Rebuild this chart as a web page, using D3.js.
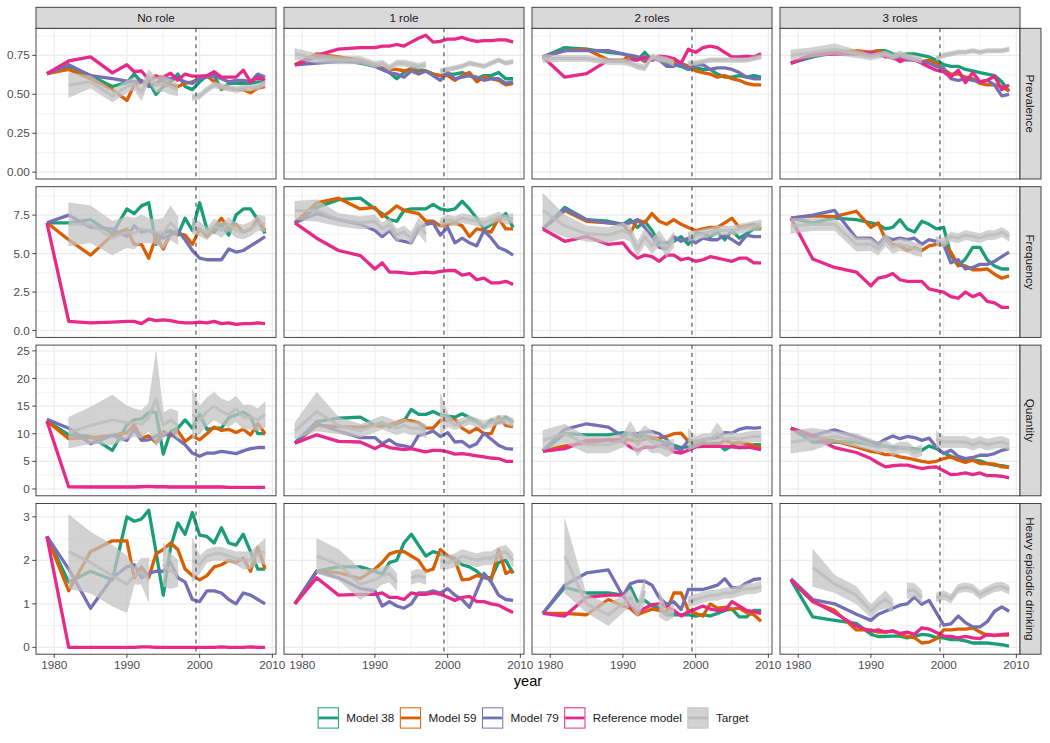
<!DOCTYPE html>
<html><head><meta charset="utf-8">
<script src="https://cdn.jsdelivr.net/npm/d3@7"></script>
<style>
body{margin:0;background:#fff}
text{font-family:"Liberation Sans",Arial,Helvetica,sans-serif}
</style>
</head><body>
<svg id="chart" width="1050" height="743"></svg>
<script>
// ---------------- data ----------------
const years = [1979,1982,1985,1988,1990,1991,1992,1993,1994,1995,1996,1997,1998,1999,2000,2001,2002,2003,2004,2005,2006,2007,2008,2009];
const roles = ["No role","1 role","2 roles","3 roles"];
const measures = ["Prevalence","Frequency","Quantity","Heavy episodic drinking"];
const seriesNames = ["Model 38","Model 59","Model 79","Reference model"];
const seriesColors = ["#1b9e77","#d95f02","#7570b3","#e7298a"];
const targetName = "Target";
const xTicks = [1980,1990,2000,2010];
const yTicksPrev = [0,0.25,0.5,0.75];
const yTicksFreq = [0,2.5,5,7.5];
const yTicksQty = [0,5,10,15,20,25];
const yTicksHed = [0,1,2,3];
const yTickFormats = [".2f",".1f","d","d"];
const changeYear = 1999.5;

// Prevalence: one array per role (No role, 1 role, 2 roles, 3 roles)
const prevM38 = [
 [.633,.68,.62,.55,.575,.63,.58,.58,.50,.55,.58,.63,.55,.53,.58,.62,.62,.53,.57,.57,.57,.57,.58,.58],
 [.69,.74,.72,.70,.68,.66,.64,.60,.64,.67,.66,.65,.63,.62,.63,.63,.64,.62,.60,.62,.62,.64,.60,.60],
 [.74,.80,.79,.77,.76,.74,.72,.77,.72,.73,.70,.69,.68,.66,.67,.66,.66,.63,.61,.61,.62,.61,.62,.61],
 [.70,.74,.77,.77,.77,.78,.78,.76,.75,.76,.76,.75,.74,.72,.69,.68,.68,.66,.65,.64,.63,.62,.58,.52]];
const prevM59 = [
 [.633,.66,.60,.53,.46,.56,.58,.58,.62,.58,.56,.55,.57,.58,.60,.62,.58,.54,.54,.53,.53,.51,.54,.55],
 [.69,.76,.74,.72,.69,.67,.66,.66,.65,.66,.64,.65,.63,.62,.62,.59,.62,.64,.58,.61,.60,.59,.56,.57],
 [.74,.78,.79,.72,.72,.75,.74,.71,.74,.73,.72,.71,.70,.68,.65,.64,.63,.61,.62,.60,.59,.57,.56,.56],
 [.70,.76,.77,.78,.77,.78,.76,.74,.75,.74,.72,.71,.72,.70,.66,.63,.63,.61,.60,.57,.56,.56,.55,.52]];
const prevM79 = [
 [.633,.69,.62,.60,.585,.58,.59,.55,.57,.60,.60,.60,.58,.57,.60,.61,.62,.60,.58,.59,.59,.58,.63,.61],
 [.69,.70,.71,.71,.68,.66,.64,.63,.61,.65,.63,.65,.62,.59,.64,.60,.61,.62,.61,.59,.60,.60,.57,.58],
 [.74,.78,.78,.78,.76,.75,.74,.72,.73,.72,.68,.68,.70,.66,.69,.69,.66,.67,.67,.66,.64,.61,.60,.60],
 [.70,.75,.76,.76,.75,.76,.75,.73,.73,.72,.72,.71,.70,.68,.67,.60,.59,.60,.59,.58,.59,.56,.49,.50]];
const prevRef = [
 [.633,.714,.74,.638,.69,.645,.65,.595,.61,.61,.635,.59,.63,.617,.617,.62,.645,.61,.61,.61,.655,.58,.61,.59],
 [.686,.75,.79,.80,.80,.81,.81,.82,.81,.835,.86,.88,.835,.84,.855,.855,.865,.85,.84,.845,.845,.85,.85,.835],
 [.74,.61,.633,.72,.71,.72,.72,.74,.72,.745,.74,.73,.70,.79,.77,.80,.81,.80,.77,.74,.74,.745,.74,.76],
 [.70,.756,.76,.76,.77,.76,.74,.74,.71,.73,.72,.70,.676,.655,.644,.61,.655,.575,.64,.58,.59,.616,.53,.56]];
const prevTgt = [
 [null,.56,.58,.49,.55,.57,.51,.62,.56,.57,.55,.53,null,.48,.49,.53,.56,.55,.54,.53,.54,.54,.55,.57],
 [.76,.73,.72,.72,.69,.70,.67,.70,.70,.69,.68,.69,null,.65,.66,.67,.68,.70,.69,.68,.70,.72,.70,.71],
 [.73,.73,.73,.71,.71,.70,.68,.67,.74,.73,.72,.70,null,.70,.70,.71,.72,.72,.72,.72,.72,.72,.73,.74],
 [.75,.77,.79,.76,.74,.75,.76,.74,.76,.74,.73,.72,null,.73,.75,.76,.77,.77,.78,.77,.78,.78,.78,.79]];
const prevTgtHalf = [
 [null,.08,.04,.04,.04,.04,.05,.04,.05,.05,.05,.04,null,.02,.02,.02,.02,.02,.02,.02,.02,.02,.02,.02],
 [.035,.03,.025,.025,.02,.02,.02,.02,.02,.02,.02,.02,null,.015,.015,.015,.015,.015,.015,.015,.015,.015,.015,.015],
 [.025,.02,.02,.02,.02,.02,.02,.02,.02,.02,.02,.02,null,.015,.015,.015,.015,.015,.015,.015,.015,.015,.015,.015],
 [.035,.03,.035,.025,.02,.02,.02,.02,.02,.02,.02,.02,null,.015,.015,.015,.015,.015,.015,.015,.015,.015,.015,.015]];

// Frequency
const freqM38 = [
 [7.0,7.0,7.2,6.3,7.9,7.6,8.1,8.3,5.6,6.3,6.5,6.2,7.3,6.5,8.3,6.6,6.4,6.9,6.2,7.5,7.9,7.9,7.2,6.3],
 [7.0,8.0,8.5,8.6,7.9,7.6,7.2,7.1,7.8,7.9,7.9,7.9,8.2,7.9,7.8,7.9,8.4,7.9,7.3,6.6,6.9,7.2,7.6,6.7],
 [6.6,8.0,7.2,7.1,6.9,7.2,6.7,7.1,6.5,5.7,5.7,5.8,6.1,5.6,6.3,6.3,6.1,6.4,5.9,6.5,6.0,6.3,6.6,6.6],
 [7.3,7.0,7.3,7.2,7.0,6.9,6.6,6.7,7.2,6.6,6.4,7.1,6.9,6.6,6.7,4.9,4.2,4.65,5.4,5.4,4.6,4.2,4.0,4.0]];
const freqM59 = [
 [7.0,5.9,4.9,6.2,6.6,5.6,5.6,4.7,6.1,5.3,6.3,6.3,6.2,5.6,6.6,6.1,6.7,7.3,6.6,6.9,6.4,6.6,7.2,6.5],
 [7.0,8.3,8.6,7.9,8.0,7.4,7.7,8.1,7.8,7.7,7.6,7.1,7.1,6.8,6.9,7.0,6.8,6.1,6.6,6.5,6.4,7.3,6.6,6.6],
 [6.6,7.8,7.1,7.0,6.9,6.3,7.2,7.0,7.6,7.1,6.9,7.2,6.9,6.7,6.5,6.6,6.7,6.7,7.0,7.3,6.7,6.8,6.9,6.6],
 [7.3,7.45,7.4,7.75,6.7,7.0,5.95,5.6,5.5,5.2,5.4,5.2,5.5,5.6,5.6,5.1,4.25,4.2,3.95,3.95,4.0,3.66,3.4,3.55]];
const freqM79 = [
 [7.0,7.5,6.7,6.6,6.1,6.8,6.4,6.5,6.3,6.0,6.2,6.5,5.9,5.2,4.7,4.6,4.6,4.6,5.3,5.1,5.2,5.5,5.8,6.1],
 [7.0,7.6,7.2,6.9,6.5,6.1,6.5,5.9,5.8,5.7,6.6,6.9,7.0,6.2,6.7,5.7,6.0,5.7,5.5,6.5,6.0,5.4,5.2,4.9],
 [6.6,7.9,7.2,7.0,6.9,7.0,7.2,6.7,6.1,5.4,5.3,6.1,5.8,6.0,5.7,6.0,5.9,5.9,6.2,5.9,5.6,6.2,6.1,6.1],
 [7.3,7.5,7.8,6.0,6.0,5.6,6.1,5.9,6.0,5.9,6.0,5.6,5.9,5.8,5.6,4.4,4.6,4.0,4.1,4.3,4.3,4.5,4.8,5.1]];
const freqRef = [
 [7.0,0.6,0.5,0.55,0.6,0.6,0.45,0.75,0.65,0.7,0.65,0.55,0.5,0.5,0.55,0.5,0.6,0.45,0.5,0.4,0.45,0.45,0.5,0.45],
 [7.0,6.0,5.2,4.87,4.0,4.4,3.8,3.8,3.75,3.7,3.75,3.8,3.75,3.85,3.9,3.9,3.6,3.7,3.3,3.4,3.1,3.1,3.2,3.0],
 [6.6,5.8,6.1,5.6,5.7,5.1,4.7,4.9,4.8,4.5,4.9,4.9,4.6,4.7,4.5,4.6,4.8,4.7,4.6,4.5,4.7,4.7,4.4,4.4],
 [7.3,4.65,4.1,3.8,2.9,3.4,3.5,3.7,3.3,3.2,3.2,3.2,2.7,2.6,2.5,2.2,2.1,2.5,2.2,2.4,1.9,1.8,1.5,1.5]];
const freqTgt = [
 [null,6.9,6.9,6.0,6.4,6.3,6.6,6.5,6.4,6.3,7.0,6.5,null,6.8,6.6,6.3,6.8,6.5,6.9,6.5,6.4,6.6,7.0,6.9],
 [7.8,7.8,7.2,7.0,7.1,6.6,6.9,6.2,6.4,6.0,6.8,6.3,null,7.0,7.2,7.1,7.3,7.2,7.1,7.0,7.2,7.4,7.2,7.3],
 [7.8,6.8,6.3,6.2,6.5,6.3,5.3,6.1,5.5,6.0,5.3,5.9,null,6.1,6.2,6.3,6.4,6.5,6.5,6.5,6.6,6.7,6.8,6.9],
 [6.8,6.9,6.9,5.6,5.6,5.3,5.9,5.4,5.6,5.5,5.3,5.2,null,5.8,5.7,6.1,6.0,6.2,6.1,6.0,6.2,6.2,6.4,6.1]];
const freqTgtHalf = [
 [null,1.4,1.2,1.1,1.0,1.0,0.9,0.8,0.8,1.0,1.1,0.9,null,0.5,0.45,0.4,0.45,0.45,0.45,0.45,0.45,0.45,0.5,0.5],
 [0.6,0.7,0.4,0.4,0.4,0.4,0.4,0.4,0.4,0.4,0.5,0.6,null,0.3,0.3,0.3,0.3,0.3,0.3,0.3,0.3,0.3,0.3,0.3],
 [1.1,0.7,0.5,0.5,0.5,0.5,0.5,0.5,0.5,0.5,0.5,0.5,null,0.3,0.3,0.3,0.3,0.3,0.3,0.3,0.3,0.3,0.3,0.3],
 [0.5,0.4,0.4,0.45,0.4,0.4,0.4,0.4,0.4,0.4,0.4,0.4,null,0.3,0.3,0.3,0.3,0.3,0.3,0.3,0.3,0.3,0.3,0.3]];

// Quantity
const qtyM38 = [
 [12.3,9.8,9.5,7.0,11.6,12.5,12.7,13.8,13.9,6.3,10.4,11.0,12.5,11.0,13.5,10.8,11.0,11.0,12.9,13.4,13.9,13.1,10.0,10.0],
 [8.3,12.2,12.8,13.0,11.5,12.0,11.2,11.8,12.3,14.4,13.5,13.5,14.0,13.4,13.2,13.0,13.6,12.9,12.2,11.2,12.5,12.0,13.0,12.0],
 [6.9,10.0,9.8,9.8,10.2,10.0,9.4,9.6,9.2,8.8,8.2,7.9,7.5,7.6,8.0,7.8,8.2,8.3,7.1,7.8,7.5,7.5,8.0,8.0],
 [11.0,8.5,8.5,8.5,8.0,7.8,7.8,7.5,7.5,7.3,7.3,7.0,7.8,7.3,6.5,5.9,5.4,5.2,5.2,5.1,4.6,4.3,4.2,4.0]];
const qtyM59 = [
 [12.3,9.1,9.3,9.7,10.2,11.6,9.2,9.6,8.4,10.4,9.6,10.5,8.6,9.6,8.9,10.0,11.2,10.6,10.8,10.2,10.8,9.8,11.8,10.0],
 [8.3,11.5,11.3,11.2,11.5,11.3,11.7,12.0,12.5,12.3,12.0,11.0,11.0,12.4,12.4,12.6,11.0,10.2,11.0,10.0,10.0,13.0,11.5,11.3],
 [6.9,7.8,8.3,8.9,9.0,8.9,8.6,9.0,9.3,9.2,9.5,10.0,10.1,8.6,8.3,8.5,7.9,8.0,8.8,8.3,8.4,8.2,7.8,7.5],
 [11.0,9.5,8.7,7.6,6.8,6.6,6.2,6.2,5.8,5.6,5.3,5.0,4.8,5.0,5.5,5.8,5.2,4.8,5.2,4.6,4.6,4.5,4.0,3.9]];
const qtyM79 = [
 [12.6,11.0,8.2,9.7,8.8,10.8,8.8,8.9,9.6,9.7,10.0,9.0,8.0,6.5,5.9,6.5,6.5,6.8,6.6,6.4,6.9,7.3,7.5,7.5],
 [8.3,11.8,10.5,9.3,9.3,8.2,8.9,8.0,7.8,7.5,9.7,10.0,10.5,9.5,10.2,8.5,8.6,7.6,8.2,10.1,9.0,7.9,7.3,7.2],
 [6.9,10.8,11.8,11.2,9.5,10.0,10.0,10.3,10.4,10.0,9.0,7.5,7.0,8.8,8.6,8.8,9.1,9.3,10.2,10.1,10.8,11.1,11.0,11.1],
 [11.0,9.7,10.7,9.4,8.5,8.2,9.0,9.6,9.1,9.5,9.3,8.8,9.2,7.6,6.4,7.0,5.9,5.5,5.7,6.1,6.1,6.4,7.0,7.3]];
const qtyRef = [
 [12.3,0.4,0.35,0.35,0.35,0.35,0.4,0.45,0.4,0.4,0.35,0.35,0.35,0.35,0.35,0.35,0.35,0.35,0.3,0.3,0.3,0.3,0.3,0.3],
 [8.3,9.8,8.6,8.5,7.3,8.0,7.5,7.3,7.1,7.3,7.0,6.7,7.0,7.0,6.7,6.3,6.4,6.2,6.0,5.8,5.6,5.5,5.0,5.0],
 [6.8,7.3,8.8,8.9,8.6,7.6,7.0,7.6,7.5,7.9,7.8,6.7,6.5,7.0,7.6,7.7,7.7,7.7,7.7,7.6,7.5,7.6,7.4,7.1],
 [11.0,9.5,7.5,6.6,5.5,4.7,4.0,4.2,4.3,4.3,4.0,3.7,3.9,4.0,3.3,2.6,2.7,2.9,2.6,2.9,2.4,2.4,2.3,2.0]];
const qtyTgt = [
 [null,10.2,11.5,12.5,12.0,12.0,11.7,13.0,16.3,11.5,12.5,11.5,null,13.5,12.5,14.0,15.0,14.0,13.5,14.5,13.0,13.0,12.5,13.5],
 [10.5,14.0,11.5,10.5,11.5,12.0,11.5,11.0,11.5,11.0,11.0,10.5,null,13.5,12.5,11.5,12.0,12.5,12.0,11.5,12.0,12.5,12.5,12.0],
 [8.8,10.0,8.0,8.0,8.8,10.2,8.0,9.5,8.5,7.8,7.3,7.8,null,9.0,8.5,9.0,9.0,10.0,9.0,9.2,9.0,9.3,9.5,9.5],
 [8.5,9.0,9.5,8.8,8.0,7.5,7.8,7.0,7.5,7.5,6.5,7.0,null,9.0,8.5,8.5,8.5,8.5,8.0,8.5,8.0,8.3,8.5,8.0]];
const qtyTgtHalf = [
 [null,2.8,3.3,4.5,3.0,2.5,2.5,2.5,8.5,2.3,2.0,2.5,null,4.5,2.5,2.5,2.5,2.3,2.3,2.3,2.2,2.2,2.0,2.3],
 [1.5,3.5,1.5,1.2,1.2,1.2,1.2,1.2,1.2,1.2,1.2,1.2,null,3.8,1.2,0.8,0.8,0.8,0.8,0.8,0.8,0.8,0.8,0.8],
 [1.8,1.7,1.5,1.5,1.2,2.0,2.0,2.0,2.0,1.2,1.5,1.2,null,2.0,1.0,1.0,1.0,2.0,1.0,1.0,1.0,1.0,1.0,1.0],
 [2.0,2.0,1.0,1.2,1.0,1.0,1.0,1.0,1.0,1.0,1.0,1.0,null,1.5,1.0,1.0,1.0,1.0,1.0,1.0,1.0,1.0,1.0,1.0]];

// Heavy episodic drinking
const hedM38 = [
 [2.55,1.5,1.75,1.55,3.0,2.9,2.95,3.15,2.2,1.2,2.3,2.86,2.6,3.1,2.58,2.55,2.4,2.75,2.4,2.35,2.6,2.2,1.8,1.8],
 [1.0,1.75,1.85,1.85,1.75,1.68,1.95,2.0,2.4,2.6,2.35,2.1,2.2,2.15,2.1,2.05,1.9,1.85,1.75,1.6,1.6,1.95,2.0,1.7],
 [0.78,1.38,1.25,1.25,1.2,1.4,1.05,1.08,0.95,0.9,0.75,0.75,0.75,0.75,0.72,0.75,0.72,0.78,0.85,0.88,0.7,0.7,0.85,0.85],
 [1.55,0.7,0.62,0.55,0.3,0.25,0.25,0.26,0.26,0.22,0.25,0.3,0.28,0.22,0.22,0.18,0.18,0.15,0.1,0.1,0.1,0.08,0.06,0.03]];
const hedM59 = [
 [2.55,1.3,2.2,2.45,2.45,1.6,1.85,1.6,2.15,2.25,2.4,2.25,1.8,1.65,1.55,1.65,1.85,1.9,2.0,1.95,2.05,1.75,2.3,1.8],
 [1.0,1.75,1.72,1.58,1.8,1.95,2.15,2.2,2.2,2.1,2.0,1.75,1.8,2.25,2.1,2.0,1.55,1.57,1.65,1.62,1.55,2.25,1.7,1.78],
 [0.78,0.78,0.75,1.1,0.95,0.9,0.75,0.82,0.88,0.85,0.82,1.25,1.25,0.85,0.78,0.72,1.0,0.9,0.92,0.88,0.9,0.8,0.75,0.6],
 [1.55,1.05,0.85,0.4,0.4,0.35,0.35,0.38,0.3,0.25,0.22,0.1,0.12,0.2,0.4,0.4,0.42,0.42,0.45,0.35,0.28,0.28,0.28,0.28]];
const hedM79 = [
 [2.55,1.8,0.9,1.6,1.85,1.9,1.6,1.7,1.75,1.75,1.95,1.6,1.5,1.1,1.05,1.3,1.3,1.25,1.1,1.0,1.25,1.2,1.1,1.0],
 [1.0,1.75,1.6,1.35,1.3,0.95,1.05,0.95,0.9,1.0,1.25,1.25,1.3,1.25,1.35,1.2,1.1,0.92,1.3,1.7,1.5,1.2,1.1,1.08],
 [0.78,1.43,1.71,1.78,1.18,1.46,1.52,1.52,1.43,1.14,0.99,1.05,0.87,1.33,1.33,1.33,1.38,1.43,1.58,1.37,1.37,1.48,1.56,1.58],
 [1.58,1.1,1.0,0.76,0.62,0.76,0.83,0.9,0.97,1.0,1.16,0.99,1.08,0.8,0.51,0.54,0.72,0.57,0.47,0.47,0.59,0.83,0.93,0.83]];
const hedRef = [
 [2.55,0.0,0.0,0.0,0.0,0.0,0.01,0.01,0.0,0.0,0.0,0.0,0.0,0.0,0.0,0.0,0.0,0.01,0.0,0.0,0.0,0.01,0.0,0.0],
 [1.0,1.6,1.2,1.22,1.22,1.25,1.15,1.15,1.1,1.25,1.22,1.22,1.25,1.22,1.15,1.08,1.15,1.17,1.05,1.05,1.0,0.97,0.88,0.8],
 [0.78,0.72,1.15,1.2,1.2,0.95,0.8,0.9,0.98,1.0,0.93,0.85,0.72,0.82,0.88,0.95,0.88,0.85,0.85,1.05,0.95,0.85,0.82,0.78],
 [1.55,1.06,0.8,0.49,0.37,0.4,0.35,0.38,0.32,0.35,0.3,0.45,0.42,0.34,0.26,0.25,0.22,0.25,0.22,0.2,0.3,0.27,0.3,0.31]];
const hedTgt = [
 [null,2.2,1.95,1.65,1.45,1.65,1.75,1.55,null,1.9,1.75,1.7,null,2.0,1.9,2.1,2.15,2.15,2.1,2.05,2.0,2.0,2.15,2.2],
 [null,2.1,1.9,1.45,1.55,1.65,1.7,1.5,null,1.6,1.65,1.6,null,2.0,1.95,2.0,2.1,2.05,2.0,2.05,2.05,2.15,2.2,2.0],
 [null,2.1,1.0,0.75,1.0,1.15,0.85,1.3,null,1.0,0.75,0.85,null,1.05,1.1,1.15,1.2,1.2,1.25,1.25,1.3,1.35,1.35,1.4],
 [null,1.83,1.46,1.2,0.83,1.0,1.1,0.97,null,1.3,1.32,1.15,null,1.15,1.2,1.12,1.35,1.38,1.35,1.2,1.3,1.38,1.4,1.32]];
const hedTgtHalf = [
 [null,0.85,0.7,0.7,0.65,0.2,0.3,0.5,null,0.5,0.4,0.3,null,0.5,0.2,0.15,0.15,0.15,0.15,0.15,0.2,0.2,0.2,0.3],
 [null,0.4,0.35,0.35,0.25,0.2,0.2,0.2,null,0.15,0.15,0.15,null,0.2,0.15,0.15,0.15,0.15,0.15,0.15,0.15,0.15,0.15,0.15],
 [null,0.85,0.2,0.25,0.2,0.2,0.15,0.3,null,0.3,0.15,0.15,null,0.12,0.12,0.12,0.12,0.12,0.12,0.12,0.12,0.12,0.12,0.12],
 [null,0.43,0.2,0.2,0.15,0.15,0.2,0.15,null,0.18,0.15,0.15,null,0.1,0.1,0.1,0.1,0.1,0.1,0.1,0.1,0.1,0.1,0.1]];

// assemble per measure (row)
const rowsData = [
  {models:[prevM38,prevM59,prevM79,prevRef], tgt:prevTgt, half:prevTgtHalf, ticks:yTicksPrev},
  {models:[freqM38,freqM59,freqM79,freqRef], tgt:freqTgt, half:freqTgtHalf, ticks:yTicksFreq},
  {models:[qtyM38,qtyM59,qtyM79,qtyRef], tgt:qtyTgt, half:qtyTgtHalf, ticks:yTicksQty},
  {models:[hedM38,hedM59,hedM79,hedRef], tgt:hedTgt, half:hedTgtHalf, ticks:yTicksHed}
];

// ---------------- layout ----------------
const svg = d3.select("#chart");
const panelLeft0 = 36, panelW = 240, gapX = 8;
const panelTop0 = 28.3, panelH = 150.7, gapY = 7.7;
const stripH = 21, rStripW = 21;
const gridCol = "#ebebeb", borderCol = "#333333", stripFill = "#d9d9d9";
const axisTextCol = "#4d4d4d";
const fontSize = 11.7;
const lineW = 3.3;

const px = c => panelLeft0 + c*(panelW+gapX);
const py = r => panelTop0 + r*(panelH+gapY);

const xExt = d3.extent(years);
const xPad = 0.05*(xExt[1]-xExt[0]);
const x = d3.scaleLinear().domain([xExt[0]-xPad, xExt[1]+xPad]).range([0, panelW]);
const xMinor = [];
for (let i=0;i<xTicks.length-1;i++) xMinor.push((xTicks[i]+xTicks[i+1])/2);

svg.append("rect").attr("width",1050).attr("height",743).attr("fill","#fff");

rowsData.forEach((rd, r) => {
  let vals = [0];
  rd.models.forEach(m => m.forEach(a => a.forEach(v => vals.push(v))));
  rd.tgt.forEach((a,c) => a.forEach((v,i) => { if (v!=null){ vals.push(v+rd.half[c][i]); vals.push(v-rd.half[c][i]); } }));
  const lo = d3.min(vals), hi = d3.max(vals);
  const pad = 0.05*(hi-lo);
  const y = d3.scaleLinear().domain([lo-pad, hi+pad]).range([panelH, 0]);
  const step = rd.ticks[1]-rd.ticks[0];
  const yMinor = [];
  for (let m = rd.ticks[0]-step/2; m <= hi+pad; m += step) if (m >= lo-pad) yMinor.push(m);
  const yMajor = rd.ticks.filter(t => t >= lo-pad && t <= hi+pad);
  const fmt = d3.format(yTickFormats[r]);

  roles.forEach((role, c) => {
    const g = svg.append("g").attr("transform", `translate(${px(c)},${py(r)})`);
    g.append("rect").attr("width",panelW).attr("height",panelH).attr("fill","#fff");
    const clipId = `clip-${r}-${c}`;
    g.append("clipPath").attr("id",clipId).append("rect").attr("width",panelW).attr("height",panelH);
    const grid = g.append("g");
    yMinor.forEach(v => grid.append("line").attr("x1",0).attr("x2",panelW).attr("y1",y(v)).attr("y2",y(v)).attr("stroke",gridCol).attr("stroke-width",0.6));
    xMinor.forEach(v => grid.append("line").attr("y1",0).attr("y2",panelH).attr("x1",x(v)).attr("x2",x(v)).attr("stroke",gridCol).attr("stroke-width",0.6));
    yMajor.forEach(v => grid.append("line").attr("x1",0).attr("x2",panelW).attr("y1",y(v)).attr("y2",y(v)).attr("stroke",gridCol).attr("stroke-width",1.1));
    xTicks.forEach(v => grid.append("line").attr("y1",0).attr("y2",panelH).attr("x1",x(v)).attr("x2",x(v)).attr("stroke",gridCol).attr("stroke-width",1.1));

    const plot = g.append("g").attr("clip-path",`url(#${clipId})`);
    const line = d3.line().defined(d => d.v != null).x(d => x(d.yr)).y(d => y(d.v)).curve(d3.curveLinear);
    rd.models.forEach((m, s) => {
      const pts = years.map((yr,i) => ({yr, v:m[c][i]}));
      plot.append("path").attr("d", line(pts)).attr("fill","none")
        .attr("stroke", seriesColors[s]).attr("stroke-width",lineW)
        .attr("stroke-linejoin","round").attr("stroke-linecap","butt");
    });
    const tpts = years.map((yr,i) => ({yr, v:rd.tgt[c][i], h:rd.half[c][i]}));
    const area = d3.area().defined(d => d.v != null).x(d => x(d.yr)).y0(d => y(d.v-d.h)).y1(d => y(d.v+d.h));
    plot.append("path").attr("d", area(tpts)).attr("fill","#c2c2c2").attr("fill-opacity",0.74)
      .attr("stroke","#b5b5b5").attr("stroke-width",0.5).attr("stroke-opacity",0.6);
    plot.append("path").attr("d", line(tpts)).attr("fill","none").attr("stroke","#bdbdbd")
      .attr("stroke-opacity",0.85).attr("stroke-width",lineW-0.3).attr("stroke-linejoin","round");
    plot.append("line").attr("x1",x(changeYear)).attr("x2",x(changeYear)).attr("y1",0).attr("y2",panelH)
      .attr("stroke","#444").attr("stroke-width",1.1).attr("stroke-dasharray","4,4");
    g.append("rect").attr("width",panelW).attr("height",panelH).attr("fill","none")
      .attr("stroke",borderCol).attr("stroke-width",0.9);

    if (c === 0) {
      yMajor.forEach(v => {
        g.append("line").attr("x1",-3.7).attr("x2",0).attr("y1",y(v)).attr("y2",y(v)).attr("stroke",borderCol).attr("stroke-width",0.9);
        g.append("text").attr("x",-6.3).attr("y",y(v)).attr("dy","0.35em").attr("text-anchor","end")
          .attr("font-size",fontSize).attr("fill",axisTextCol).text(fmt(v));
      });
    }
    if (r === rowsData.length-1) {
      xTicks.forEach(v => {
        g.append("line").attr("x1",x(v)).attr("x2",x(v)).attr("y1",panelH).attr("y2",panelH+3.7).attr("stroke",borderCol).attr("stroke-width",0.9);
        g.append("text").attr("x",x(v)).attr("y",panelH+15.2).attr("text-anchor","middle")
          .attr("font-size",fontSize).attr("fill",axisTextCol).text(v);
      });
    }
    if (r === 0) {
      const sg = svg.append("g").attr("transform",`translate(${px(c)},${panelTop0-stripH})`);
      sg.append("rect").attr("width",panelW).attr("height",stripH).attr("fill",stripFill).attr("stroke",borderCol).attr("stroke-width",0.9);
      sg.append("text").attr("x",panelW/2).attr("y",stripH/2).attr("dy","0.35em").attr("text-anchor","middle")
        .attr("font-size",fontSize).attr("fill","#1a1a1a").text(role);
    }
  });
  const rx = px(roles.length-1)+panelW;
  const rg = svg.append("g").attr("transform",`translate(${rx},${py(r)})`);
  rg.append("rect").attr("width",rStripW).attr("height",panelH).attr("fill",stripFill).attr("stroke",borderCol).attr("stroke-width",0.9);
  rg.append("text").attr("transform",`translate(${rStripW/2},${panelH/2}) rotate(90)`).attr("dy","0.35em")
    .attr("text-anchor","middle").attr("font-size",fontSize).attr("fill","#1a1a1a").text(measures[r]);
});

const plotLeft = px(0), plotRight = px(roles.length-1)+panelW;
svg.append("text").attr("x",(plotLeft+plotRight)/2).attr("y",685.5).attr("text-anchor","middle")
  .attr("font-size",14.6).attr("fill","#000").text("year");

// legend
const legendItems = seriesNames.map((n,i)=>({name:n,color:seriesColors[i],target:false}))
  .concat([{name:targetName,color:"#bdbdbd",target:true}]);
const keySize = 21.3, keyTextGap = 7.3, itemGap = 5.5, legendY = 707.3, legendCenter = 533;
const lg = svg.append("g");
const widths = legendItems.map(it => {
  const t = lg.append("text").attr("font-size",fontSize).text(it.name);
  const w = t.node().getComputedTextLength(); t.remove(); return w;
});
const total = d3.sum(widths) + legendItems.length*(keySize+keyTextGap) + (legendItems.length-1)*itemGap;
let cx = legendCenter - total/2;
legendItems.forEach((it,i) => {
  const kg = lg.append("g").attr("transform",`translate(${cx},${legendY})`);
  if (it.target) {
    kg.append("rect").attr("x",0.5).attr("y",0.5).attr("width",keySize-1).attr("height",keySize-1)
      .attr("fill","#c2c2c2").attr("fill-opacity",0.74).attr("stroke","#c4c4c4").attr("stroke-width",1);
    kg.append("line").attr("x1",1).attr("x2",keySize-1).attr("y1",keySize/2).attr("y2",keySize/2)
      .attr("stroke","#bdbdbd").attr("stroke-width",2.8);
  } else {
    kg.append("rect").attr("x",0.5).attr("y",0.5).attr("width",keySize-1).attr("height",keySize-1)
      .attr("fill","#fff").attr("stroke",it.color).attr("stroke-width",1);
    kg.append("line").attr("x1",1).attr("x2",keySize-1).attr("y1",keySize/2).attr("y2",keySize/2)
      .attr("stroke",it.color).attr("stroke-width",2.8);
  }
  kg.append("text").attr("x",keySize+keyTextGap).attr("y",keySize/2).attr("dy","0.35em")
    .attr("font-size",fontSize).attr("fill","#1a1a1a").text(it.name);
  cx += keySize + keyTextGap + widths[i] + itemGap;
});
</script>
</body></html>
